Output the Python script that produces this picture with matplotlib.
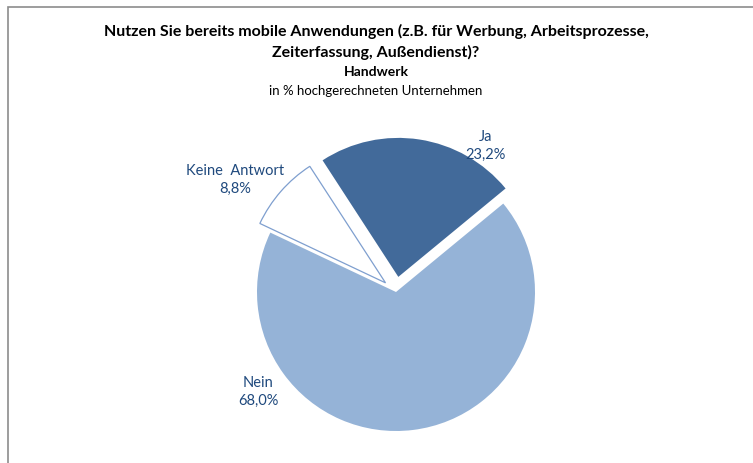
import matplotlib.pyplot as plt
from matplotlib.patches import Rectangle

labels = ['Ja', 'Keine  Antwort', 'Nein']
values = [23.2, 8.8, 68.0]
value_text = ['23,2%', '8,8%', '68,0%']
colors = ['#426A9A', '#FFFFFF', '#95B3D7']

plt.rcParams['font.family'] = ['Lato', 'DejaVu Sans']

radius = 139
# explode is given in data units by pie(), so scale fractions by radius
explode = [f * radius for f in (0.11, 0.10, 0.0)]

fig = plt.figure(figsize=(7.53, 4.64), dpi=100)
ax = fig.add_axes([0, 0, 1, 1])

wedges, _ = ax.pie(values, colors=colors, explode=explode, startangle=39.5,
                   counterclock=True, center=(396, 171), radius=radius,
                   wedgeprops={'linewidth': 0})
wedges[1].set_edgecolor('#7F9FCF')
wedges[1].set_linewidth(0.9)

# pie() rescales the axes, so fix the pixel-like limits afterwards
ax.set_xlim(0, 753)
ax.set_ylim(0, 464)
ax.set_aspect('equal')
ax.axis('off')

# frame (cut off at right and bottom like the screenshot)
ax.add_patch(Rectangle((7.5, -5), 760, 464 - 8 + 5, fill=False,
                       edgecolor='#8C8C8C', linewidth=1.2))

ax.text(376, 422, 'Nutzen Sie bereits mobile Anwendungen (z.B. für Werbung, Arbeitsprozesse,\nZeiterfassung, Außendienst)?',
        ha='center', va='center', fontsize=11.5, fontweight='bold', color='black',
        linespacing=1.55)
ax.text(376, 392, 'Handwerk', ha='center', va='center', fontsize=10,
        fontweight='bold', color='black')
ax.text(376, 373, 'in % hochgerechneten Unternehmen', ha='center', va='center',
        fontsize=9.5, color='black')

label_pos = [(486, 318), (235, 284), (258, 72)]
for (x, y), name, txt in zip(label_pos, labels, value_text):
    ax.text(x, y, name + '\n' + txt, ha='center', va='center', fontsize=10.5,
            color='#1F497D', linespacing=1.3)

plt.savefig('out.png', dpi=100)
